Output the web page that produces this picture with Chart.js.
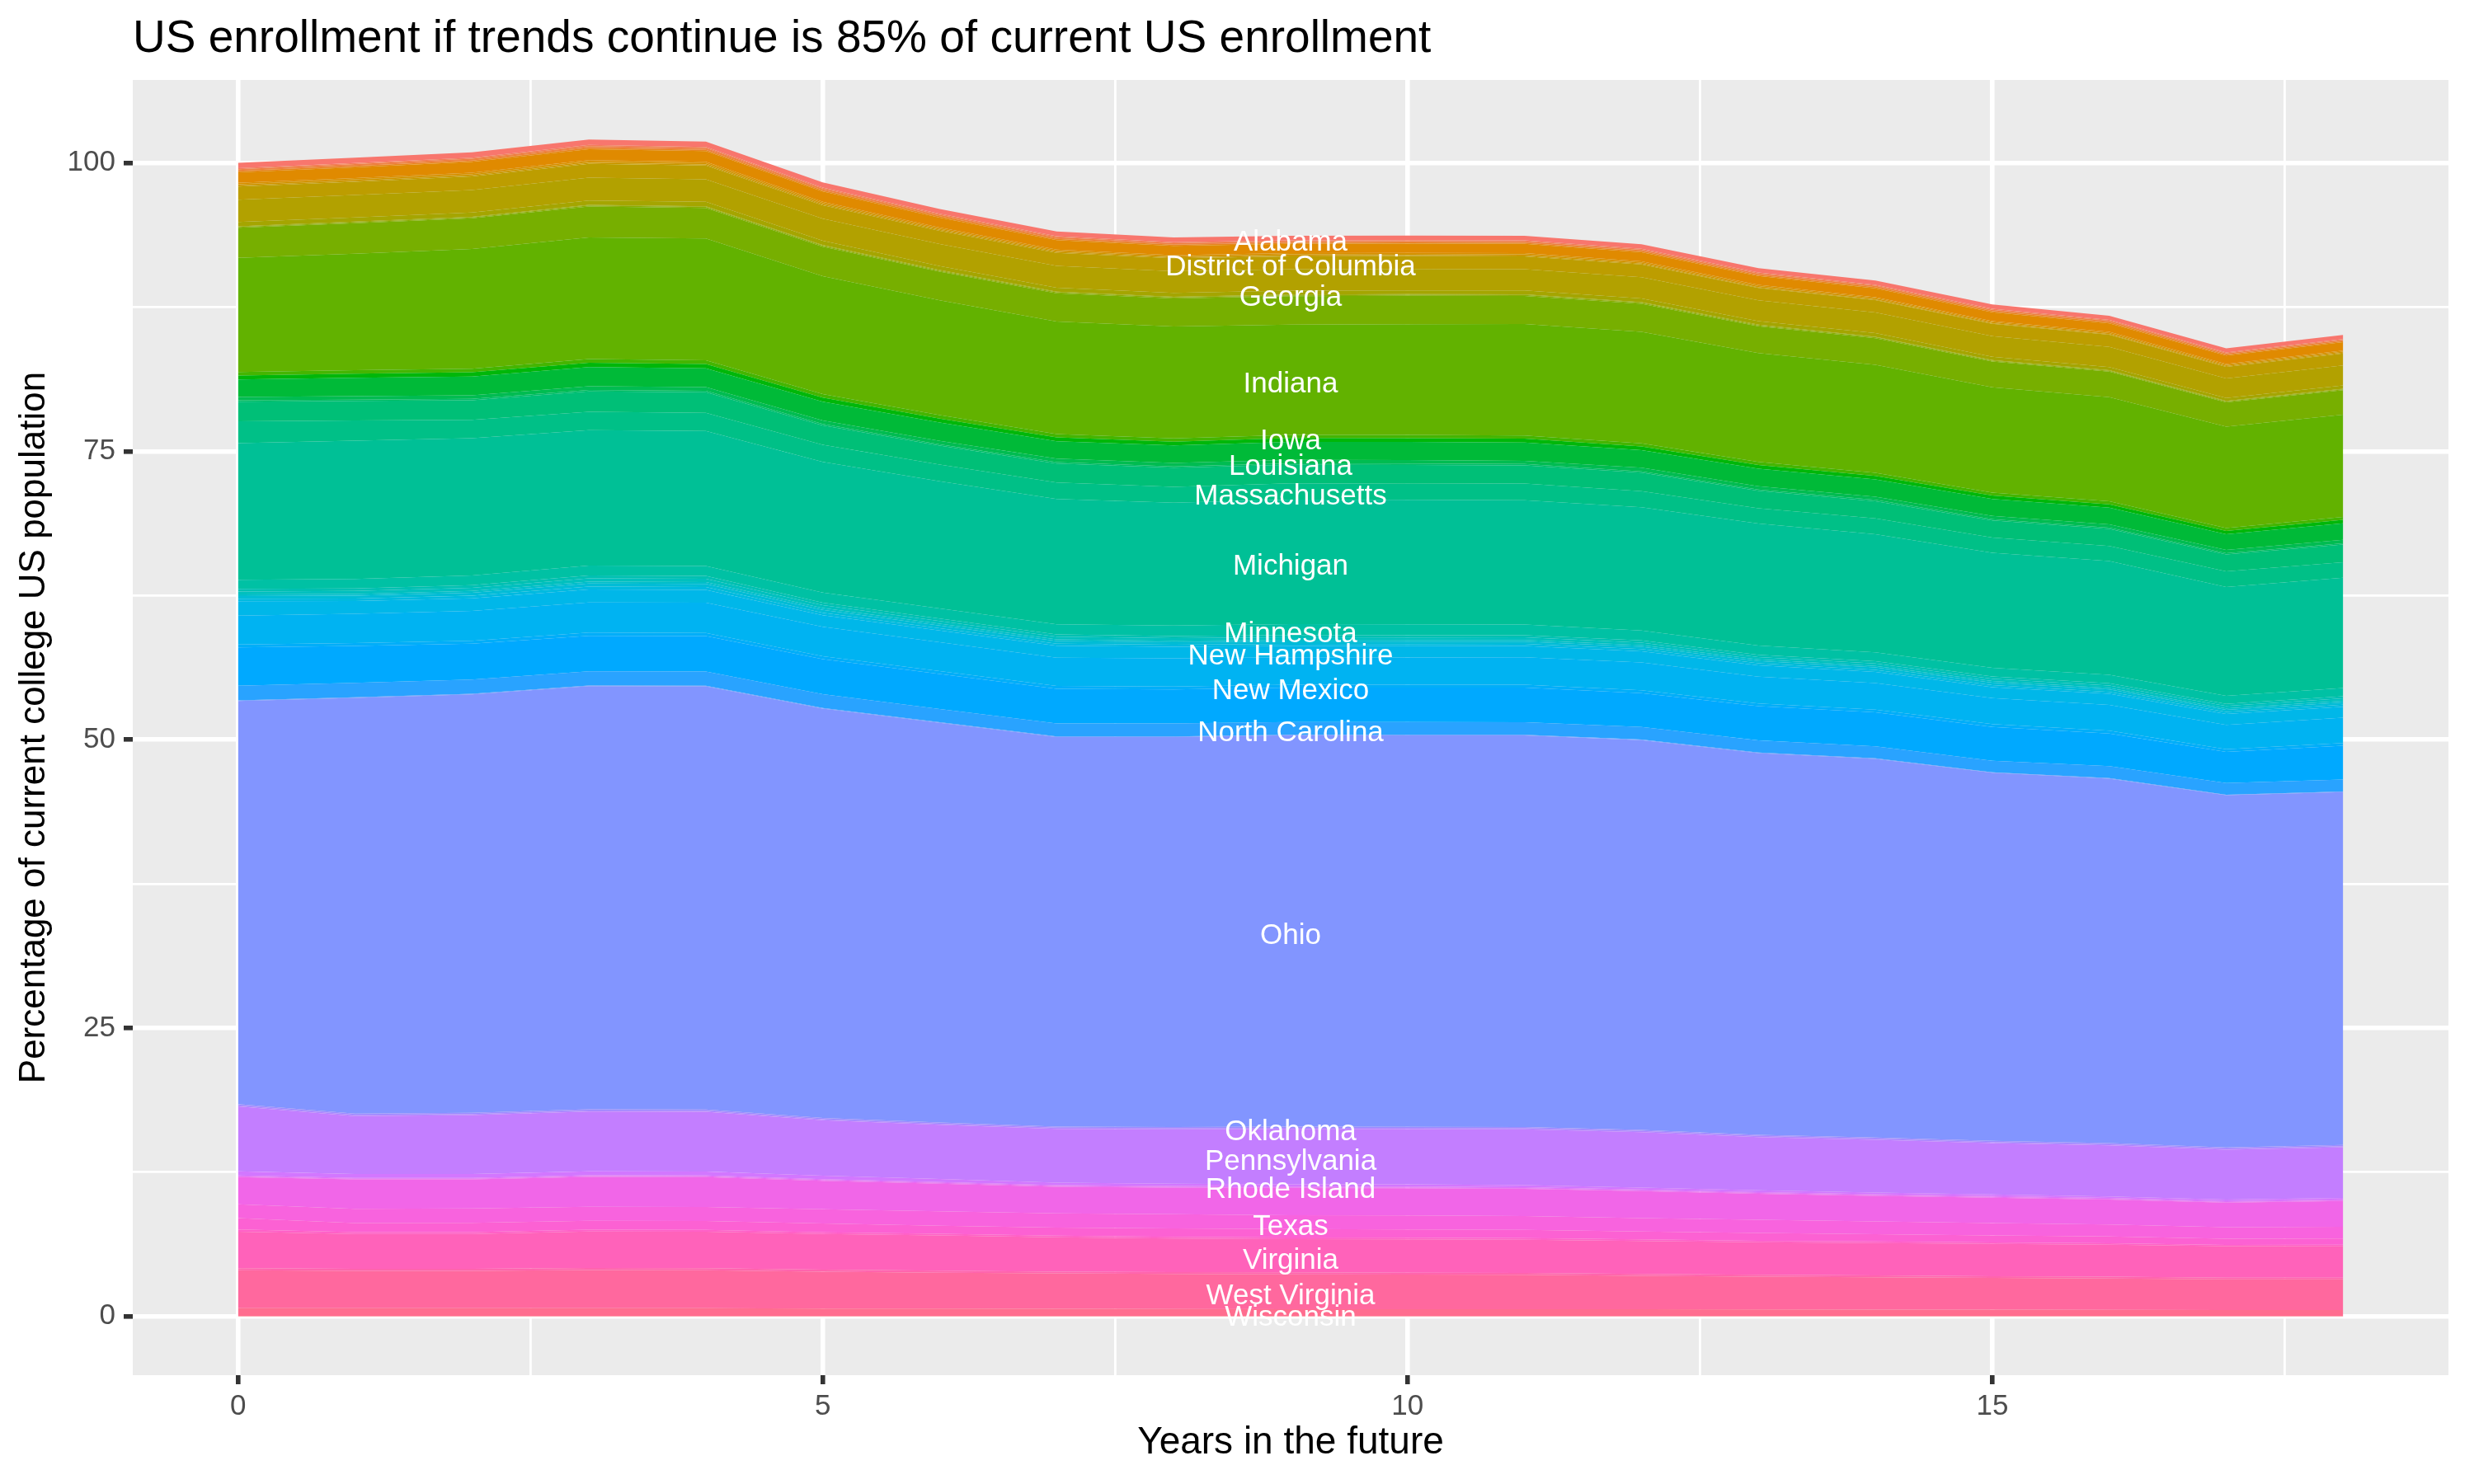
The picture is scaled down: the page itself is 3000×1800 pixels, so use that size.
<!DOCTYPE html>
<html>
<head>
<meta charset="utf-8">
<title>US enrollment if trends continue</title>
<script src="https://cdn.jsdelivr.net/npm/chart.js@4.4.1/dist/chart.umd.min.js"></script>
<style>
  html, body { margin: 0; padding: 0; background: #ffffff; }
  canvas { display: block; }
</style>
</head>
<body>
<canvas id="enrollChart" width="3000" height="1800"></canvas>
<script>
// Share of current college US population, by state, years 0..18 in the future
const years = [0, 1, 2, 3, 4, 5, 6, 7, 8, 9, 10, 11, 12, 13, 14, 15, 16, 17, 18];

const alabama       = [0.45, 0.46, 0.46, 0.46, 0.46, 0.44, 0.42, 0.41, 0.40, 0.39, 0.39, 0.39, 0.39, 0.38, 0.37, 0.37, 0.36, 0.35, 0.35];
const alaska        = [0.10, 0.10, 0.10, 0.10, 0.10, 0.10, 0.09, 0.09, 0.09, 0.09, 0.09, 0.09, 0.09, 0.09, 0.08, 0.08, 0.08, 0.08, 0.08];
const arizona       = [0.14, 0.15, 0.15, 0.15, 0.15, 0.14, 0.13, 0.13, 0.13, 0.12, 0.12, 0.12, 0.12, 0.12, 0.12, 0.12, 0.12, 0.11, 0.11];
const arkansas      = [0.12, 0.12, 0.12, 0.12, 0.12, 0.11, 0.11, 0.11, 0.10, 0.10, 0.10, 0.10, 0.10, 0.10, 0.10, 0.10, 0.10, 0.09, 0.09];
const california    = [0.92, 0.93, 0.95, 0.95, 0.93, 0.89, 0.86, 0.83, 0.81, 0.81, 0.80, 0.81, 0.79, 0.77, 0.77, 0.76, 0.74, 0.72, 0.72];
const colorado      = [0.12, 0.12, 0.12, 0.12, 0.12, 0.11, 0.11, 0.10, 0.10, 0.10, 0.10, 0.10, 0.10, 0.10, 0.10, 0.10, 0.10, 0.10, 0.10];
const connecticut   = [0.11, 0.11, 0.11, 0.11, 0.11, 0.11, 0.10, 0.10, 0.10, 0.10, 0.10, 0.10, 0.10, 0.10, 0.10, 0.09, 0.09, 0.09, 0.09];
const delaware      = [0.09, 0.09, 0.09, 0.09, 0.09, 0.08, 0.08, 0.08, 0.07, 0.07, 0.07, 0.07, 0.06, 0.06, 0.06, 0.06, 0.06, 0.06, 0.06];
const dc            = [1.15, 1.16, 1.17, 1.20, 1.19, 1.16, 1.15, 1.13, 1.12, 1.12, 1.12, 1.11, 1.11, 1.08, 1.07, 1.07, 1.05, 1.01, 1.04];
const florida       = [1.92, 1.94, 1.95, 1.98, 1.96, 1.92, 1.90, 1.89, 1.88, 1.86, 1.86, 1.85, 1.84, 1.80, 1.79, 1.78, 1.75, 1.69, 1.74];
const georgia       = [0.37, 0.36, 0.37, 0.38, 0.38, 0.37, 0.35, 0.34, 0.34, 0.34, 0.33, 0.33, 0.32, 0.31, 0.31, 0.29, 0.28, 0.26, 0.28];
const hawaii        = [0.06, 0.06, 0.06, 0.06, 0.06, 0.06, 0.06, 0.06, 0.06, 0.06, 0.06, 0.06, 0.06, 0.06, 0.05, 0.05, 0.05, 0.05, 0.05];
const idaho         = [0.08, 0.08, 0.08, 0.08, 0.08, 0.08, 0.08, 0.08, 0.08, 0.08, 0.08, 0.08, 0.08, 0.08, 0.08, 0.07, 0.07, 0.07, 0.07];
const illinois      = [2.60, 2.64, 2.65, 2.68, 2.66, 2.56, 2.48, 2.46, 2.44, 2.46, 2.47, 2.44, 2.43, 2.32, 2.30, 2.24, 2.22, 2.10, 2.14];
const indiana       = [9.90, 10.10, 10.38, 10.54, 10.56, 10.22, 9.96, 9.76, 9.70, 9.56, 9.60, 9.66, 9.68, 9.44, 9.38, 9.12, 9.02, 8.80, 8.86];
const iowa          = [0.30, 0.30, 0.31, 0.32, 0.32, 0.30, 0.30, 0.28, 0.28, 0.28, 0.28, 0.28, 0.27, 0.27, 0.26, 0.26, 0.26, 0.25, 0.25];
const kansas        = [0.35, 0.36, 0.37, 0.38, 0.37, 0.36, 0.35, 0.33, 0.33, 0.33, 0.33, 0.33, 0.32, 0.32, 0.31, 0.31, 0.30, 0.29, 0.30];
const kentucky      = [1.51, 1.59, 1.64, 1.66, 1.63, 1.64, 1.59, 1.51, 1.51, 1.56, 1.57, 1.59, 1.51, 1.51, 1.49, 1.46, 1.44, 1.36, 1.43];
const louisiana     = [0.30, 0.30, 0.30, 0.32, 0.32, 0.30, 0.29, 0.30, 0.30, 0.30, 0.30, 0.28, 0.32, 0.29, 0.28, 0.28, 0.28, 0.28, 0.30];
const maine         = [0.12, 0.12, 0.12, 0.13, 0.13, 0.12, 0.12, 0.12, 0.12, 0.12, 0.12, 0.11, 0.12, 0.11, 0.11, 0.11, 0.11, 0.10, 0.11];
const maryland      = [1.70, 1.69, 1.70, 1.78, 1.78, 1.68, 1.64, 1.66, 1.66, 1.62, 1.62, 1.58, 1.60, 1.52, 1.50, 1.48, 1.49, 1.48, 1.54];
const massachusetts = [1.89, 1.75, 1.59, 1.58, 1.58, 1.48, 1.44, 1.43, 1.38, 1.40, 1.40, 1.45, 1.40, 1.31, 1.36, 1.32, 1.30, 1.35, 1.33];
const michigan      = [11.84, 12.00, 11.90, 11.74, 11.70, 11.33, 11.03, 10.85, 10.65, 10.80, 10.80, 10.78, 10.69, 10.59, 10.24, 9.98, 9.86, 9.44, 9.57];
const minnesota     = [0.80, 0.82, 0.84, 0.86, 0.86, 0.88, 0.88, 0.88, 0.90, 0.95, 0.95, 0.92, 0.85, 0.80, 0.78, 0.75, 0.74, 0.70, 0.71];
const mississippi   = [0.22, 0.22, 0.23, 0.25, 0.25, 0.22, 0.21, 0.20, 0.19, 0.19, 0.19, 0.19, 0.19, 0.19, 0.19, 0.19, 0.19, 0.18, 0.19];
const missouri      = [0.25, 0.26, 0.27, 0.28, 0.28, 0.25, 0.24, 0.23, 0.22, 0.22, 0.22, 0.22, 0.22, 0.21, 0.21, 0.21, 0.21, 0.20, 0.21];
const montana       = [0.15, 0.15, 0.16, 0.17, 0.17, 0.16, 0.15, 0.15, 0.14, 0.14, 0.14, 0.14, 0.14, 0.14, 0.14, 0.14, 0.14, 0.13, 0.14];
const nebraska      = [0.23, 0.24, 0.25, 0.27, 0.27, 0.24, 0.23, 0.22, 0.21, 0.21, 0.21, 0.21, 0.21, 0.20, 0.20, 0.20, 0.20, 0.19, 0.20];
const nevada        = [0.22, 0.22, 0.23, 0.25, 0.25, 0.22, 0.20, 0.19, 0.18, 0.18, 0.18, 0.18, 0.18, 0.18, 0.18, 0.18, 0.17, 0.17, 0.17];
const newHampshire  = [1.24, 1.10, 1.10, 1.12, 1.10, 1.00, 1.02, 1.03, 1.00, 0.98, 0.98, 0.98, 0.98, 0.97, 0.97, 0.96, 0.96, 0.94, 0.95];
const newJersey     = [2.50, 2.54, 2.58, 2.62, 2.62, 2.55, 2.50, 2.45, 2.45, 2.38, 2.36, 2.38, 2.40, 2.33, 2.30, 2.25, 2.24, 2.11, 2.20];
const newMexico     = [0.26, 0.26, 0.26, 0.27, 0.27, 0.26, 0.25, 0.25, 0.25, 0.25, 0.25, 0.25, 0.25, 0.24, 0.24, 0.24, 0.24, 0.23, 0.24];
const newYork       = [3.33, 3.19, 3.10, 3.08, 3.08, 3.03, 3.04, 3.01, 2.95, 2.99, 2.98, 2.99, 2.93, 2.96, 2.94, 2.93, 2.84, 2.70, 2.92];
const northCarolina = [1.26, 1.25, 1.24, 1.24, 1.24, 1.20, 1.15, 1.12, 1.12, 1.10, 1.12, 1.10, 1.10, 1.06, 1.05, 1.00, 1.03, 1.02, 1.04];
const northDakota   = [0.05, 0.05, 0.05, 0.05, 0.05, 0.05, 0.05, 0.05, 0.05, 0.05, 0.05, 0.05, 0.05, 0.05, 0.05, 0.05, 0.05, 0.05, 0.05];
const ohio          = [34.96, 36.06, 36.28, 36.69, 36.69, 35.50, 34.65, 33.77, 33.81, 33.93, 33.93, 33.95, 33.79, 33.09, 32.82, 31.91, 31.60, 30.53, 30.60];
const oklahoma      = [0.10, 0.10, 0.10, 0.10, 0.10, 0.10, 0.10, 0.10, 0.10, 0.10, 0.10, 0.10, 0.10, 0.10, 0.10, 0.10, 0.10, 0.10, 0.10];
const oregon        = [0.10, 0.10, 0.10, 0.10, 0.10, 0.10, 0.10, 0.10, 0.10, 0.10, 0.10, 0.10, 0.10, 0.10, 0.10, 0.10, 0.10, 0.10, 0.10];
const pennsylvania  = [5.63, 5.02, 5.10, 5.18, 5.18, 4.80, 4.70, 4.66, 4.72, 4.80, 4.80, 4.85, 4.80, 4.61, 4.57, 4.44, 4.42, 4.33, 4.39];
const rhodeIsland   = [0.36, 0.34, 0.34, 0.33, 0.33, 0.30, 0.26, 0.22, 0.20, 0.19, 0.19, 0.18, 0.17, 0.16, 0.15, 0.15, 0.14, 0.13, 0.13];
const southCarolina = [0.08, 0.08, 0.08, 0.08, 0.08, 0.08, 0.08, 0.08, 0.08, 0.08, 0.08, 0.08, 0.08, 0.08, 0.08, 0.08, 0.08, 0.08, 0.08];
const southDakota   = [0.06, 0.06, 0.06, 0.06, 0.06, 0.06, 0.06, 0.06, 0.06, 0.06, 0.06, 0.06, 0.06, 0.06, 0.06, 0.06, 0.06, 0.06, 0.06];
const tennessee     = [2.36, 2.54, 2.52, 2.60, 2.60, 2.47, 2.40, 2.31, 2.31, 2.36, 2.36, 2.36, 2.35, 2.25, 2.22, 2.21, 2.15, 2.12, 2.23];
const texas         = [1.19, 1.24, 1.25, 1.22, 1.22, 1.24, 1.25, 1.24, 1.23, 1.19, 1.21, 1.20, 1.15, 1.15, 1.10, 1.07, 1.05, 1.00, 1.02];
const utah          = [0.99, 0.79, 0.79, 0.77, 0.77, 0.76, 0.70, 0.69, 0.73, 0.73, 0.72, 0.71, 0.69, 0.67, 0.64, 0.60, 0.58, 0.54, 0.54];
const vermont       = [0.20, 0.16, 0.16, 0.16, 0.16, 0.15, 0.15, 0.14, 0.14, 0.15, 0.15, 0.14, 0.14, 0.13, 0.13, 0.12, 0.12, 0.11, 0.11];
const virginia      = [3.16, 3.02, 3.03, 3.16, 3.16, 3.09, 3.05, 2.98, 2.91, 2.88, 2.88, 2.87, 2.86, 2.82, 2.81, 2.81, 2.78, 2.72, 2.74];
const washington    = [0.17, 0.17, 0.17, 0.18, 0.18, 0.17, 0.17, 0.16, 0.16, 0.17, 0.17, 0.17, 0.16, 0.16, 0.16, 0.15, 0.15, 0.15, 0.15];
const westVirginia  = [3.29, 3.25, 3.25, 3.30, 3.28, 3.20, 3.12, 3.06, 3.04, 3.02, 3.00, 2.98, 2.90, 2.85, 2.80, 2.75, 2.72, 2.66, 2.66];
const wisconsin     = [0.69, 0.68, 0.68, 0.69, 0.69, 0.66, 0.65, 0.64, 0.62, 0.60, 0.60, 0.60, 0.59, 0.58, 0.57, 0.56, 0.55, 0.53, 0.53];
const wyoming       = [0.02, 0.02, 0.02, 0.02, 0.02, 0.02, 0.02, 0.02, 0.02, 0.02, 0.02, 0.02, 0.02, 0.02, 0.02, 0.02, 0.02, 0.02, 0.02];

// factor order (alphabetical); the first level is stacked on top
const stateNames = ['Alabama', 'Alaska', 'Arizona', 'Arkansas', 'California', 'Colorado', 'Connecticut', 'Delaware',
  'District of Columbia', 'Florida', 'Georgia', 'Hawaii', 'Idaho', 'Illinois', 'Indiana', 'Iowa', 'Kansas', 'Kentucky',
  'Louisiana', 'Maine', 'Maryland', 'Massachusetts', 'Michigan', 'Minnesota', 'Mississippi', 'Missouri', 'Montana',
  'Nebraska', 'Nevada', 'New Hampshire', 'New Jersey', 'New Mexico', 'New York', 'North Carolina', 'North Dakota',
  'Ohio', 'Oklahoma', 'Oregon', 'Pennsylvania', 'Rhode Island', 'South Carolina', 'South Dakota', 'Tennessee', 'Texas',
  'Utah', 'Vermont', 'Virginia', 'Washington', 'West Virginia', 'Wisconsin', 'Wyoming'];
const stateValues = [alabama, alaska, arizona, arkansas, california, colorado, connecticut, delaware,
  dc, florida, georgia, hawaii, idaho, illinois, indiana, iowa, kansas, kentucky,
  louisiana, maine, maryland, massachusetts, michigan, minnesota, mississippi, missouri, montana,
  nebraska, nevada, newHampshire, newJersey, newMexico, newYork, northCarolina, northDakota,
  ohio, oklahoma, oregon, pennsylvania, rhodeIsland, southCarolina, southDakota, tennessee, texas,
  utah, vermont, virginia, washington, westVirginia, wisconsin, wyoming];

// states that get a name written on the plot, at this year
const labelledStates = ['Alabama', 'District of Columbia', 'Georgia', 'Indiana', 'Iowa', 'Louisiana', 'Massachusetts',
  'Michigan', 'Minnesota', 'New Hampshire', 'New Mexico', 'North Carolina', 'Ohio', 'Oklahoma', 'Pennsylvania',
  'Rhode Island', 'Texas', 'Virginia', 'West Virginia', 'Wisconsin'];
const labelYear = 9;

const xTicks = [0, 5, 10, 15];
const yTicks = [0, 25, 50, 75, 100];

const titleText = 'US enrollment if trends continue is 85% of current US enrollment';
const xTitle = 'Years in the future';
const yTitle = 'Percentage of current college US population';

const FONT = '"Liberation Sans", Arial, Helvetica, sans-serif';

// ggplot-style hue palette (polar LUV)
function hclHex(h, c, l) {
  const rad = h * Math.PI / 180;
  const U = c * Math.cos(rad), V = c * Math.sin(rad);
  const Y = l > 8 ? Math.pow((l + 16) / 116, 3) : l / 903.3;
  const u = U / (13 * l) + 0.1978398;
  const v = V / (13 * l) + 0.4683363;
  const X = 9 * Y * u / (4 * v);
  const Z = -X / 3 - 5 * Y + 3 * Y / v;
  const lin = [
    3.240479 * X - 1.537150 * Y - 0.498535 * Z,
    -0.969256 * X + 1.875992 * Y + 0.041556 * Z,
    0.055648 * X - 0.204043 * Y + 1.057311 * Z
  ];
  return '#' + lin.map(t => {
    t = Math.max(0, t);
    t = t <= 0.0031308 ? 12.92 * t : 1.055 * Math.pow(t, 1 / 2.4) - 0.055;
    t = Math.min(1, Math.max(0, t));
    return Math.round(t * 255).toString(16).padStart(2, '0');
  }).join('');
}

function buildDatasets() {
  const n = stateNames.length;
  const sets = stateNames.map((name, i) => ({
    label: name,
    data: years.map((yr, k) => ({ x: yr, y: stateValues[i][k] })),
    backgroundColor: hclHex(15 + i * 360 / n, 100, 65),
    borderWidth: 0,
    pointRadius: 0,
    pointHoverRadius: 0,
    tension: 0
  }));
  // Chart.js stacks upward from dataset 0, so the last factor level goes first
  sets.reverse();
  sets.forEach((ds, i) => { ds.fill = i === 0 ? 'origin' : '-1'; });
  return sets;
}

const panelPlugin = {
  id: 'panel',
  beforeDraw(chart) {
    const { ctx, chartArea } = chart;
    ctx.save();
    ctx.fillStyle = '#ffffff';
    ctx.fillRect(0, 0, chart.width, chart.height);
    ctx.fillStyle = '#EBEBEB';
    ctx.fillRect(chartArea.left, chartArea.top, chartArea.right - chartArea.left, chartArea.bottom - chartArea.top);
    ctx.restore();
  }
};

const stateLabelPlugin = {
  id: 'stateLabels',
  afterDatasetsDraw(chart) {
    const { ctx, scales } = chart;
    const k = years.indexOf(labelYear);
    const sets = chart.data.datasets;
    const size = 35;
    ctx.save();
    ctx.font = `${size}px ${FONT}`;
    ctx.fillStyle = '#ffffff';
    ctx.textAlign = 'center';
    ctx.textBaseline = 'alphabetic';
    let base = 0;
    sets.forEach(ds => {
      const val = ds.data[k].y;
      if (labelledStates.includes(ds.label)) {
        const mid = base + val / 2;
        // centre of the text box sits on the middle of the band
        const py = scales.y.getPixelForValue(mid) + size * 0.36 + 3;
        ctx.fillText(ds.label, scales.x.getPixelForValue(labelYear), py);
      }
      base += val;
    });
    ctx.restore();
  }
};

const titlesPlugin = {
  id: 'titles',
  afterDraw(chart) {
    const { ctx, chartArea } = chart;
    ctx.save();
    ctx.fillStyle = '#000000';
    ctx.font = `55px ${FONT}`;
    ctx.textAlign = 'left';
    ctx.textBaseline = 'alphabetic';
    ctx.fillText(titleText, chartArea.left, 63);

    ctx.font = `46px ${FONT}`;
    ctx.textAlign = 'center';
    ctx.textBaseline = 'middle';
    ctx.fillText(xTitle, (chartArea.left + chartArea.right) / 2, 1750);

    ctx.font = `44px ${FONT}`;
    ctx.translate(42, (chartArea.top + chartArea.bottom) / 2);
    ctx.rotate(-Math.PI / 2);
    ctx.fillText(yTitle, 0, 0);
    ctx.restore();
  }
};

function renderEnrollmentChart() {
  const ctx = document.getElementById('enrollChart').getContext('2d');

  window.enrollChartInstance = new Chart(ctx, {
    type: 'line',
    data: { datasets: buildDatasets() },
    options: {
      responsive: false,
      animation: false,
      devicePixelRatio: 1,
      layout: { padding: { left: 0, top: 97, right: 31, bottom: 0 } },
      plugins: {
        legend: { display: false },
        tooltip: { enabled: false },
        title: { display: false }
      },
      scales: {
        x: {
          type: 'linear',
          min: -0.9,
          max: 18.9,
          afterFit: (scale) => { scale.height = 132; },
          border: { display: false },
          grid: {
            color: '#ffffff',
            lineWidth: (c) => (xTicks.includes(c.tick.value) ? 5.6 : 2.8),
            tickColor: (c) => (xTicks.includes(c.tick.value) ? '#333333' : 'rgba(0,0,0,0)'),
            tickWidth: 5.6,
            tickLength: 11
          },
          ticks: {
            stepSize: 2.5,
            includeBounds: false,
            autoSkip: false,
            maxRotation: 0,
            padding: 6,
            color: '#4D4D4D',
            font: { family: FONT, size: 35 },
            callback: (val) => (xTicks.includes(val) ? String(val) : '')
          }
        },
        y: {
          type: 'linear',
          stacked: true,
          min: -5.1,
          max: 107.2,
          afterFit: (scale) => { scale.width = 161; },
          border: { display: false },
          grid: {
            color: '#ffffff',
            lineWidth: (c) => (yTicks.includes(c.tick.value) ? 5.6 : 2.8),
            tickColor: (c) => (yTicks.includes(c.tick.value) ? '#333333' : 'rgba(0,0,0,0)'),
            tickWidth: 5.6,
            tickLength: 11
          },
          ticks: {
            stepSize: 12.5,
            includeBounds: false,
            autoSkip: false,
            padding: 10,
            color: '#4D4D4D',
            font: { family: FONT, size: 35 },
            callback: (val) => (yTicks.includes(val) ? String(val) : '')
          }
        }
      }
    },
    plugins: [panelPlugin, stateLabelPlugin, titlesPlugin]
  });
}

renderEnrollmentChart();
</script>
</body>
</html>
